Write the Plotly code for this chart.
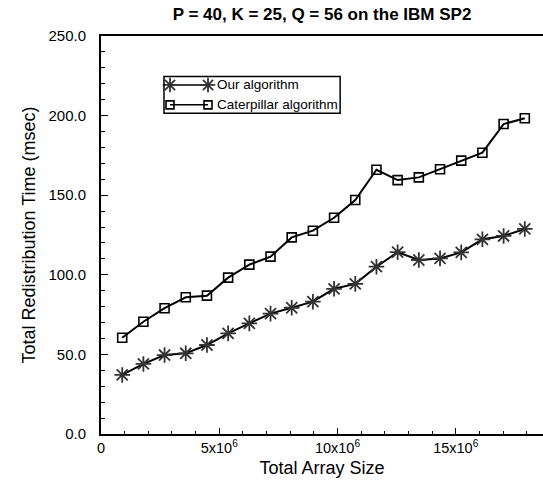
import plotly.graph_objects as go

# Redistribution timings on the IBM SP2 (P = 40, K = 25, Q = 56)
array_size = [n * 896000 for n in range(1, 21)]
our_algorithm = [37.1, 44.0, 49.6, 50.7, 55.9, 63.2, 69.5, 75.6, 79.3, 83.1,
                 91.2, 94.3, 105.1, 114.2, 109.3, 110.3, 114.1, 122.3, 124.4, 128.8]
caterpillar = [60.5, 70.5, 79.0, 85.9, 86.9, 98.2, 106.4, 111.4, 123.5, 127.7,
               135.8, 147.0, 166.0, 159.5, 161.2, 166.3, 171.7, 176.7, 194.7, 198.3]

x_ticks = [0, 5e6, 10e6, 15e6]
x_tick_labels = ["0", "5x10<sup>6</sup>", "10x10<sup>6</sup>", "15x10<sup>6</sup>"]
legend_names = ["Our algorithm", "Caterpillar algorithm"]

FONT = "Liberation Sans, Arial, Helvetica, sans-serif"
star = dict(symbol="asterisk-open", size=13, color="#333333",
            line=dict(color="#333333", width=1.8))
square = dict(symbol="square-open", size=9, color="black",
              line=dict(color="black", width=1.6))
line_style = dict(color="black", width=2)

fig = go.Figure()
fig.add_trace(go.Scatter(x=array_size, y=our_algorithm, mode="lines+markers",
                         line=line_style, marker=star, name=legend_names[0],
                         showlegend=False, cliponaxis=False))
fig.add_trace(go.Scatter(x=array_size, y=caterpillar, mode="lines+markers",
                         line=line_style, marker=square, name=legend_names[1],
                         showlegend=False, cliponaxis=False))

# Legend key drawn on an overlay axis spanning the plot area in [0, 1]
key_x = [0.1561, 0.2421]
key_rows = [0.877, 0.827]
for name, row, mk in zip(legend_names, key_rows, [star, square]):
    fig.add_trace(go.Scatter(x=key_x, y=[row, row], xaxis="x2", yaxis="y2",
                             mode="lines+markers",
                             line=dict(color="black", width=1.5),
                             marker=dict(mk, size=mk["size"] - 1),
                             showlegend=False, hoverinfo="skip"))
    fig.add_annotation(x=0.258, y=row, xref="paper", yref="paper", text=name,
                       showarrow=False, xanchor="left", yanchor="middle",
                       font=dict(family=FONT, size=13.5, color="black"))
fig.add_shape(type="rect", xref="paper", yref="paper",
              x0=0.1425, x1=0.541, y0=0.806, y1=0.898,
              line=dict(color="black", width=1.5))

fig.update_layout(
    width=543, height=490,
    margin=dict(l=101, r=0, t=36, b=56),
    paper_bgcolor="white", plot_bgcolor="white",
    font=dict(family=FONT, color="black"),
    title=dict(text="<b>P = 40, K = 25, Q = 56 on the IBM SP2</b>",
               x=0.5, xref="paper", y=1 - 14 / 490, yanchor="middle",
               font=dict(family=FONT, size=17, color="black")),
    xaxis=dict(range=[0, 18.69e6], tickvals=x_ticks, ticktext=x_tick_labels,
               ticks="inside", ticklen=6, tickwidth=1.2, tickcolor="black",
               minor=dict(dtick=1e6, tick0=0, ticks="inside", ticklen=3,
                          tickwidth=1, tickcolor="black"),
               showline=True, linecolor="black", linewidth=2, mirror=True,
               showgrid=False, zeroline=False,
               tickfont=dict(family=FONT, size=14.5, color="black"),
               title=dict(text="Total Array Size", standoff=6,
                          font=dict(family=FONT, size=18, color="black"))),
    yaxis=dict(range=[0, 250], tickvals=[0, 50, 100, 150, 200, 250],
               tickformat=".1f",
               ticks="inside", ticklen=7, tickwidth=1.2, tickcolor="black",
               minor=dict(dtick=10, tick0=0, ticks="inside", ticklen=4,
                          tickwidth=1, tickcolor="black"),
               showline=True, linecolor="black", linewidth=2,
               showgrid=False, zeroline=False, ticklabelstandoff=10,
               tickfont=dict(family=FONT, size=15, color="black"),
               title=dict(text="Total Redistribution Time (msec)", standoff=8,
                          font=dict(family=FONT, size=18, color="black"))),
    xaxis2=dict(overlaying="x", range=[0, 1], visible=False, fixedrange=True),
    yaxis2=dict(overlaying="y", range=[0, 1], visible=False, fixedrange=True),
)

fig.write_html("out.html")
